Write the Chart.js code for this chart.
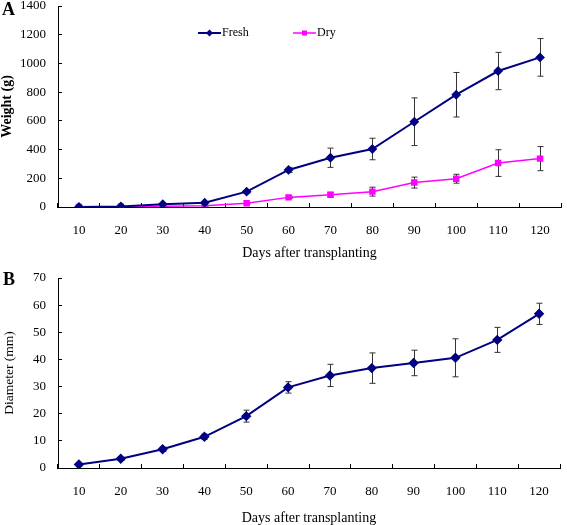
<!DOCTYPE html>
<html>
<head>
<meta charset="utf-8">
<script src="https://cdn.jsdelivr.net/npm/chart.js@4/dist/chart.umd.min.js"></script>
<style>
  body { margin: 0; background: #fff; }
  #pagina { position: relative; width: 567px; height: 525px; font-family: "Liberation Serif", "Times New Roman", serif; }
  .painel { position: absolute; left: 0; width: 567px; }
  .letra { position: absolute; left: 2px; font-size: 18px; line-height: 18px; font-weight: bold; }
</style>
</head>
<body>
<div id="pagina">
  <div class="painel" style="top:0; height:262px;"><canvas id="grafico-peso"></canvas></div>
  <div class="painel" style="top:262px; height:263px;"><canvas id="grafico-diametro"></canvas></div>
  <div class="letra" style="top:0px;">A</div>
  <div class="letra" style="top:270px; left:3px;">B</div>
</div>
<script>
// dados
let dias = ["10", "20", "30", "40", "50", "60", "70", "80", "90", "100", "110", "120"]

let pesoFresco = [0, 4, 20, 30, 107, 258, 343, 404, 594, 782, 947, 1042]
let erroFresco = [0, 2, 5, 6, 10, 18, 67, 75, 166, 155, 130, 131]
let pesoSeco = [0, 2, 5, 8, 26, 67, 86, 107, 170, 197, 306, 337]
let erroSeco = [0, 1, 2, 3, 5, 8, 16, 31, 38, 31, 93, 84]

let diametro = [1.3, 3.4, 6.9, 11.5, 19.1, 29.7, 34.1, 36.8, 38.7, 40.6, 47.2, 56.8]
let erroDiametro = [0.5, 0.6, 0.8, 1.0, 2.2, 2.1, 4.1, 5.6, 4.7, 7.0, 4.6, 3.9]

const fonte = '"Liberation Serif", "Times New Roman", serif'
const azul = "#000080"
const rosa = "#FF00FF"

// barras de erro desenhadas pelas escalas do gráfico
const barrasErro = {
    id: "barrasErro",
    beforeDatasetsDraw(chart) {
        const ctx = chart.ctx
        const x = chart.scales.x
        const y = chart.scales.y
        chart.data.datasets.forEach(ds => {
            if (!ds.erros) return
            ctx.save()
            ctx.strokeStyle = "#333"
            ctx.lineWidth = 1
            ds.data.forEach((v, i) => {
                const e = ds.erros[i]
                if (!e) return
                const px = Math.round(x.getPixelForValue(i)) + 0.5
                const topo = y.getPixelForValue(v + e)
                const base = y.getPixelForValue(v - e)
                ctx.beginPath()
                ctx.moveTo(px, topo); ctx.lineTo(px, base)
                ctx.moveTo(px - 3, topo); ctx.lineTo(px + 3, topo)
                ctx.moveTo(px - 3, base); ctx.lineTo(px + 3, base)
                ctx.stroke()
            })
            ctx.restore()
        })
    }
}

// legenda dentro da área do gráfico
function marcador(ctx, estilo, cx, cy, r) {
    ctx.beginPath()
    if (estilo === "rectRot") {
        ctx.moveTo(cx, cy - r); ctx.lineTo(cx + r, cy); ctx.lineTo(cx, cy + r); ctx.lineTo(cx - r, cy)
    } else {
        ctx.rect(cx - r, cy - r, 2 * r, 2 * r)
    }
    ctx.closePath()
    ctx.fill()
}

const legendaInterna = {
    id: "legendaInterna",
    afterDraw(chart, args, opts) {
        if (!opts.posicoes) return
        const ctx = chart.ctx
        chart.data.datasets.forEach((ds, i) => {
            const lx = opts.posicoes[i]
            const ly = opts.y
            ctx.save()
            ctx.strokeStyle = ds.borderColor
            ctx.fillStyle = ds.borderColor
            ctx.lineWidth = ds.borderWidth
            ctx.beginPath()
            ctx.moveTo(lx, ly); ctx.lineTo(lx + 23, ly)
            ctx.stroke()
            marcador(ctx, ds.pointStyle, lx + 11.5, ly, ds.pointStyle === "rectRot" ? 3.5 : 2.5)
            ctx.fillStyle = "#000"
            ctx.font = "12px " + fonte
            ctx.textBaseline = "middle"
            ctx.fillText(ds.label, lx + 24, ly)
            ctx.restore()
        })
    }
}

function eixos(yMax, yPasso, tituloY, negritoY, alturaX, tituloYTam, padTituloX, padTituloY, padTopo) {
    return {
        x: {
            offset: true,
            grid: { display: true, drawOnChartArea: false, drawTicks: true, tickLength: -4, offset: true, color: "#000" },
            border: { display: true, color: "#000", width: 1 },
            ticks: { color: "#000", font: { family: fonte, size: 13 }, padding: 20, maxRotation: 0 },
            title: { display: true, text: "Days after transplanting", color: "#000", font: { family: fonte, size: 14, lineHeight: 1 }, padding: { top: 0, bottom: padTituloX } },
            afterFit: scale => {
                scale.height = alturaX
                scale.paddingLeft = 0
                scale.paddingRight = 0
            }
        },
        y: {
            min: 0,
            max: yMax,
            grid: { display: true, drawOnChartArea: false, drawTicks: true, tickLength: -4, color: "#000" },
            border: { display: true, color: "#000", width: 1 },
            ticks: { stepSize: yPasso, color: "#000", font: { family: fonte, size: 13, lineHeight: 1 }, padding: 16, callback: v => v },
            title: { display: true, text: tituloY, color: "#000", font: { family: fonte, size: tituloYTam, weight: negritoY ? "bold" : "normal", lineHeight: 1 }, padding: { top: padTituloY, bottom: 0 } },
            afterFit: scale => {
                scale.width = 58
                scale.paddingTop = padTopo
                scale.paddingBottom = 0
            }
        }
    }
}

let graficoPeso = new Chart(
    document.getElementById("grafico-peso"),
    {
        type: "line",
        data: {
            labels: dias,
            datasets: [
                {
                    label: "Fresh",
                    data: pesoFresco,
                    erros: erroFresco,
                    borderColor: azul,
                    backgroundColor: azul,
                    borderWidth: 2,
                    pointStyle: "rectRot",
                    pointRadius: 3.5,
                    tension: 0
                },
                {
                    label: "Dry",
                    data: pesoSeco,
                    erros: erroSeco,
                    borderColor: rosa,
                    backgroundColor: rosa,
                    borderWidth: 1.5,
                    pointStyle: "rect",
                    pointRadius: 3.5,
                    tension: 0
                }
            ]
        },
        options: {
            responsive: true,
            maintainAspectRatio: false,
            animation: false,
            layout: { padding: { top: 6, right: 2, left: 0, bottom: 0 } },
            scales: eixos(1400, 200, "Weight (g)", true, 55, 14, 2, 0, 6),
            plugins: {
                legend: { display: false },
                tooltip: { enabled: false },
                legendaInterna: { posicoes: [198, 293], y: 33 }
            }
        },
        plugins: [barrasErro, legendaInterna]
    }
)

let graficoDiametro = new Chart(
    document.getElementById("grafico-diametro"),
    {
        type: "line",
        data: {
            labels: dias,
            datasets: [
                {
                    label: "Diameter",
                    data: diametro,
                    erros: erroDiametro,
                    borderColor: azul,
                    backgroundColor: azul,
                    borderWidth: 2,
                    pointStyle: "rectRot",
                    pointRadius: 3.8,
                    tension: 0
                }
            ]
        },
        options: {
            responsive: true,
            maintainAspectRatio: false,
            animation: false,
            layout: { padding: { top: 16, right: 7, left: 0, bottom: 0 } },
            scales: eixos(70, 10, "Diameter (mm)", false, 57, 13.5, 0, 3, 16),
            plugins: {
                legend: { display: false },
                tooltip: { enabled: false }
            }
        },
        plugins: [barrasErro]
    }
)
</script>
</body>
</html>
